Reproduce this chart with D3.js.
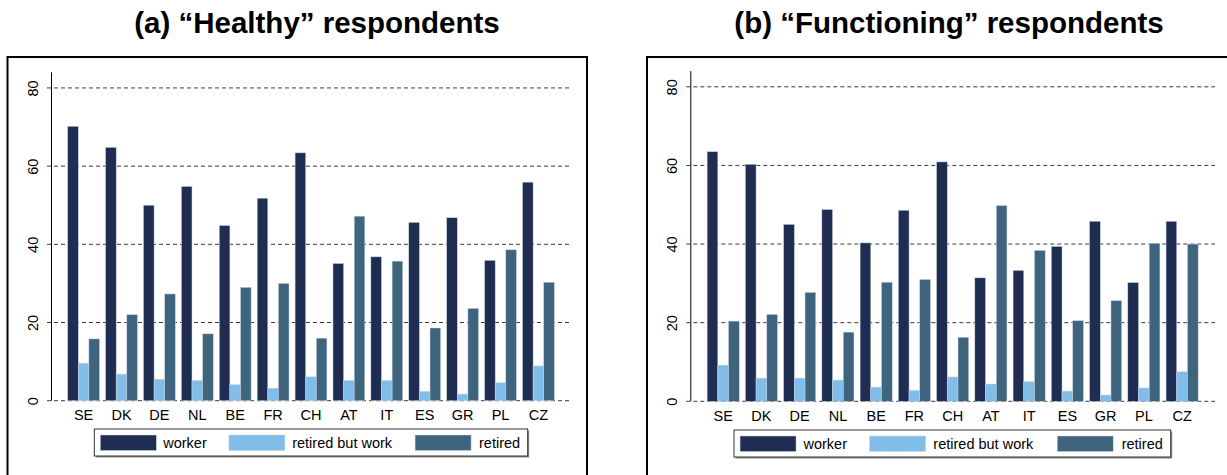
<!DOCTYPE html>
<html>
<head>
<meta charset="utf-8">
<script src="https://cdn.jsdelivr.net/npm/d3@7/dist/d3.min.js"></script>
<style>
  html, body { margin: 0; padding: 0; background: #fff; }
  svg { display: block; font-family: "Liberation Sans", Arial, sans-serif; }
</style>
</head>
<body>
<svg id="chart" width="1227" height="475"></svg>
<script>
// Share of respondents (%) by country and labour-market status
const countries = ["SE", "DK", "DE", "NL", "BE", "FR", "CH", "AT", "IT", "ES", "GR", "PL", "CZ"];
const seriesKeys = ["worker", "retired but work", "retired"];
const yTicks = [0, 20, 40, 60, 80];

const healthyWorker      = [70.2, 64.8, 50.0, 54.8, 44.8, 51.8, 63.4, 35.1, 36.8, 45.6, 46.8, 35.9, 55.9];
const healthyRetiredWork = [9.6, 6.8, 5.5, 5.2, 4.1, 3.2, 6.1, 5.2, 5.2, 2.4, 1.7, 4.6, 8.9];
const healthyRetired     = [15.8, 22.0, 27.3, 17.1, 29.0, 30.0, 16.0, 47.2, 35.7, 18.6, 23.6, 38.6, 30.3];

const functioningWorker      = [63.5, 60.3, 45.0, 48.8, 40.3, 48.6, 60.9, 31.4, 33.3, 39.4, 45.8, 30.2, 45.8];
const functioningRetiredWork = [9.2, 5.9, 5.9, 5.4, 3.6, 2.8, 6.2, 4.4, 5.0, 2.6, 1.6, 3.4, 7.5];
const functioningRetired     = [20.4, 22.1, 27.7, 17.6, 30.3, 31.0, 16.3, 49.8, 38.4, 20.5, 25.6, 40.2, 40.0];

const colors = { "worker": "#1f2d53", "retired but work": "#80bee9", "retired": "#3f657e" };

const svg = d3.select("#chart");

function drawPanel(opts) {
  const { title, titleX, frame, plot, legend, series } = opts;

  // outer frame
  svg.append("rect")
    .attr("x", frame.x).attr("y", frame.y)
    .attr("width", frame.w).attr("height", frame.h)
    .attr("fill", "none").attr("stroke", "#000").attr("stroke-width", 2);

  // title
  svg.append("text")
    .attr("x", titleX).attr("y", 33)
    .attr("text-anchor", "middle")
    .attr("font-size", "29.5px").attr("font-weight", "bold").attr("fill", "#000")
    .text(title);

  const y = d3.scaleLinear().domain([0, 84]).range([plot.y0, plot.yTop]);
  const x = d3.scaleBand().domain(countries).range([plot.x0, plot.x1])
    .paddingInner(0.16).paddingOuter(0.44);
  const xs = d3.scaleBand().domain(seriesKeys).range([0, x.bandwidth()]);

  const g = svg.append("g");

  // horizontal dashed grid
  g.selectAll("line.grid").data(yTicks).join("line")
    .attr("class", "grid")
    .attr("x1", plot.x0 - 4).attr("x2", plot.x1)
    .attr("y1", d => y(d)).attr("y2", d => y(d))
    .attr("stroke", "#3a3a3a").attr("stroke-width", 1)
    .attr("stroke-dasharray", "4,3");

  // bars
  const rows = countries.map((c, i) => ({
    country: c,
    values: seriesKeys.map((k, j) => ({ key: k, value: series[j][i] }))
  }));
  const groups = g.selectAll("g.country").data(rows).join("g")
    .attr("transform", d => `translate(${x(d.country)},0)`);
  groups.selectAll("rect").data(d => d.values).join("rect")
    .attr("x", d => xs(d.key))
    .attr("y", d => y(d.value))
    .attr("width", xs.bandwidth())
    .attr("height", d => y(0) - y(d.value))
    .attr("fill", d => colors[d.key])
    .attr("stroke", "#c9d3e2").attr("stroke-width", 0.5);

  // y axis
  const yAxis = d3.axisLeft(y).tickValues(yTicks).tickSize(0).tickPadding(0);
  const ya = g.append("g").attr("transform", `translate(${plot.x0},0)`).call(yAxis);
  ya.select(".domain").attr("stroke", "#000").attr("stroke-width", 1)
    .attr("d", `M0.5,${plot.yTop}V${y(0)}`);
  ya.selectAll(".tick text")
    .attr("x", 0).attr("y", 0).attr("dy", 0)
    .attr("transform", `translate(${-13},0) rotate(-90)`)
    .attr("text-anchor", "middle")
    .attr("font-size", "14.5px").attr("fill", "#000")
    .attr("font-family", "Liberation Sans, Arial, sans-serif");

  // x axis labels
  const xAxis = d3.axisBottom(x).tickSize(0).tickPadding(0);
  const xa = g.append("g").attr("transform", `translate(0,${y(0)})`).call(xAxis);
  xa.select(".domain").remove();
  xa.selectAll(".tick text")
    .attr("y", 19.5).attr("dy", 0)
    .attr("font-size", "14.5px").attr("fill", "#000")
    .attr("font-family", "Liberation Sans, Arial, sans-serif");

  // legend
  const lg = svg.append("g").attr("transform", `translate(${legend.x},${legend.y})`);
  lg.append("rect").attr("x", 1.5).attr("y", 1.5)
    .attr("width", legend.w).attr("height", legend.h).attr("fill", "#8a8a8a");
  lg.append("rect").attr("x", 0).attr("y", 0)
    .attr("width", legend.w).attr("height", legend.h)
    .attr("fill", "#fff").attr("stroke", "#333").attr("stroke-width", 1);
  const s = legend.w / 433.7;
  const itemOffsets = [[6, 69], [134.7, 198], [321, 385]];
  seriesKeys.forEach((k, i) => {
    lg.append("rect")
      .attr("x", itemOffsets[i][0] * s).attr("y", 6)
      .attr("width", 56).attr("height", 15.5)
      .attr("fill", colors[k]).attr("stroke", "#c9d3e2").attr("stroke-width", 0.5);
    lg.append("text")
      .attr("x", itemOffsets[i][1] * s).attr("y", 19)
      .attr("font-size", "14.5px").attr("fill", "#000")
      .text(k);
  });
}

drawPanel({
  title: "(a) \u201cHealthy\u201d respondents",
  titleX: 317,
  frame: { x: 7.5, y: 57, w: 579.5, h: 440 },
  plot: { x0: 51, x1: 571, y0: 400.7, yTop: 72.3 },
  legend: { x: 94.3, y: 429, w: 433.4, h: 27 },
  series: [healthyWorker, healthyRetiredWork, healthyRetired]
});

drawPanel({
  title: "(b) \u201cFunctioning\u201d respondents",
  titleX: 949,
  frame: { x: 647, y: 57, w: 640, h: 440 },
  plot: { x0: 690.3, x1: 1215, y0: 401.3, yTop: 71.1 },
  legend: { x: 734, y: 430, w: 436.7, h: 27 },
  series: [functioningWorker, functioningRetiredWork, functioningRetired]
});
</script>
</body>
</html>
